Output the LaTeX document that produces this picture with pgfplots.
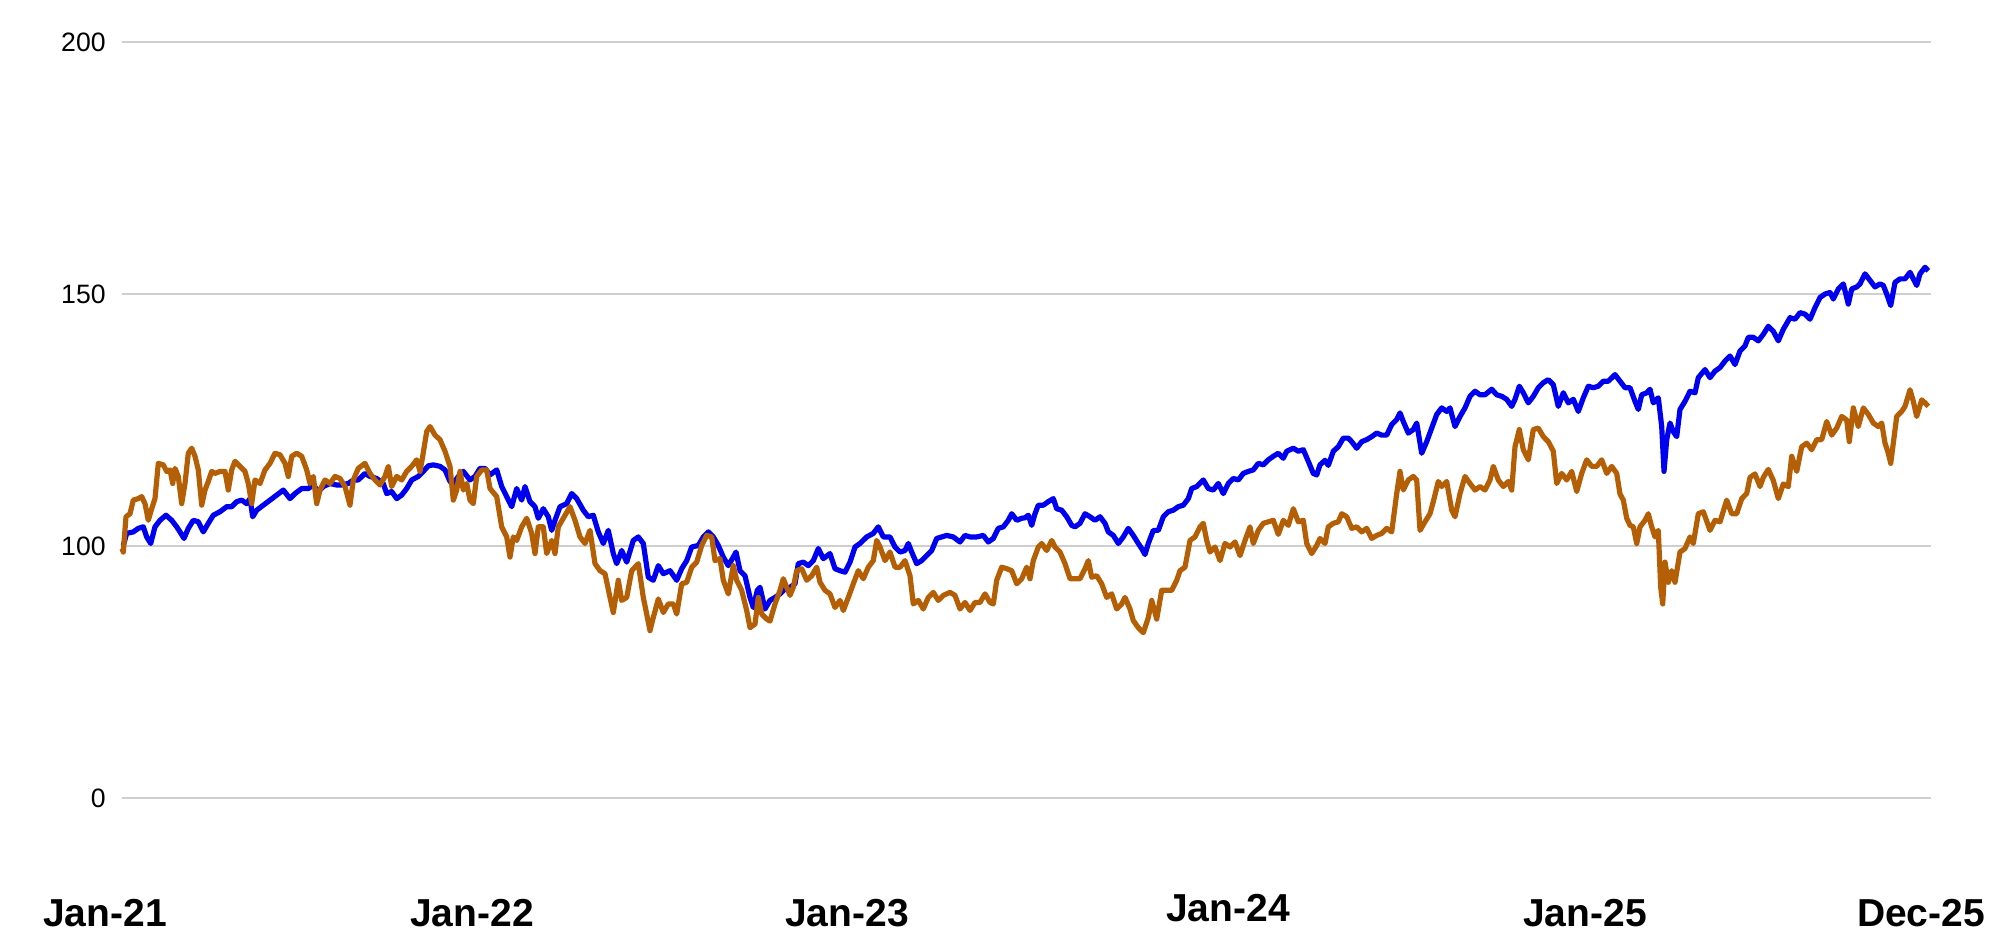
\documentclass[border=0pt]{standalone}
\usepackage{fontspec}
\setmainfont{Liberation Sans}
\usepackage{pgfplots}
\pgfplotsset{compat=1.18}
\definecolor{serblue}{HTML}{0000F0}
\definecolor{serorange}{HTML}{B45F06}
\definecolor{gridgray}{HTML}{CFCFCF}

\pgfplotstableread{
x y
122 100
123.3 100.1
126.7 102.5
133.3 102.8
138.3 103.5
143.3 103.8
146.7 101.8
150.7 100.5
155 103.8
160 105.1
166 106.1
171.7 105.1
176.7 103.8
180 102.8
184 101.5
188.3 103.5
193.3 105.1
198.3 104.8
203.3 102.8
208.3 104.5
213.3 106.1
220 106.8
226.7 107.8
231.7 107.8
236.7 108.8
241.7 109.1
246.7 108.4
250 109.4
252.7 105.8
256.7 107.1
263.3 108.1
270 109.1
276.7 110.1
283.3 111.1
290 109.4
295 110.4
301.7 111.4
308.3 111.4
313.3 112.1
318.3 110.8
323.3 111.8
330 112.4
336.7 112.1
341.7 112.1
348.3 112.4
353.3 113.1
358.3 113.1
365 114.4
370 113.8
376.7 113.4
383.3 112.4
386.7 110.4
391.7 110.8
396.7 109.4
401.7 110.1
406.7 111.4
411.7 113.1
418.3 113.8
423.3 114.8
428.3 115.9
433.3 116.1
440 115.8
445 115.1
450 112.8
453.3 112.4
458.3 113.8
463.3 114.8
470 113.1
475 113.8
480 115.4
485 115.4
490 114.1
496.7 115.1
501.7 111.8
506.7 109.8
511.7 107.8
516.7 111.4
521.7 109.1
525 111.8
530 108.8
535 107.8
538.3 105.5
543.3 107.4
548.3 105.8
551.7 103.1
555 105.1
560 107.8
566.7 108.4
571.7 110.4
576.7 109.4
583.3 107.1
588.3 105.8
593.3 106.1
598.3 102.8
603.3 100.5
608.3 103.1
613.3 98.5
616.7 96.5
621.7 99.1
626.7 96.8
633.3 101.1
638.3 101.8
643.3 100.5
648.3 93.8
653.3 93.2
658.3 96.1
663.3 94.5
670 95.1
676.7 93.2
681.7 95.5
686.7 97.1
691.7 99.8
698.3 100.1
703.3 101.8
708.3 102.8
713.3 101.8
718.3 100.1
723.3 97.8
728.3 96.1
733.3 97.8
736 98.8
740 95.1
745 94.1
750 89.8
753.3 87.8
757.3 91.2
760 91.8
765 87.5
770 89.2
775 89.8
780 90.5
785 91.5
790 91.8
795 92.5
798.3 96.5
803.3 96.8
808.3 96.1
813.3 97.1
818.3 99.5
823.3 97.5
830 98.5
835 95.5
840 95.1
845 94.8
850 96.8
855 99.8
860 100.5
866.7 101.8
873.3 102.5
878.3 103.8
883.3 101.8
890 101.8
895 99.8
900 98.8
905 99.1
908.3 100.5
911.7 98.8
916.7 96.5
921.7 97.1
926.7 98.1
931.7 99.1
936.7 101.5
941.7 101.8
946.7 102.1
953.3 101.8
960 100.8
965 102.1
970 101.8
976.7 101.8
983.3 102.1
988.3 100.8
993.3 101.5
998.3 103.5
1003.3 103.8
1008.3 105.1
1011.7 106.4
1016.7 105.1
1021.7 105.5
1025 105.6
1028.3 106.1
1031.7 104.1
1035 106.4
1038.3 108.1
1043.3 108.1
1048.3 108.8
1053.3 109.4
1056.7 107.4
1061.7 107.1
1066.7 105.8
1071.7 104.1
1075 103.8
1080 104.5
1085 106.4
1090 105.8
1095 105.1
1100 105.8
1105 104.5
1108.3 102.8
1113.3 102.1
1118.3 100.5
1123.3 101.8
1128.3 103.5
1133.3 102.1
1138.3 100.5
1141.7 99.5
1145 98.3
1148.3 100.5
1153.3 103.1
1158.3 103.1
1163.3 105.8
1168.3 106.8
1173.3 107.1
1178.3 107.8
1183.3 108.1
1188.3 109.4
1191.7 111.4
1196.7 111.8
1203.3 113.1
1208.3 111.4
1213.3 111.1
1218.3 112.4
1223.3 110.4
1228.3 112.4
1233.3 113.4
1238.3 113.1
1243.3 114.4
1248.3 114.8
1253.3 115.1
1258.3 116.4
1263.3 116.1
1268.3 117.1
1273.3 117.8
1278.3 118.4
1283.3 117.4
1286.7 118.8
1293.3 119.4
1298.3 118.8
1303.3 119.1
1308.3 116.8
1313.3 114.4
1316.7 114.1
1320 116.1
1325 117.0
1328.3 116.0
1333.3 118.8
1338.3 119.7
1343.3 121.4
1348.3 121.4
1351.7 120.7
1356.7 119.4
1361.7 120.7
1366.7 121.1
1371.7 121.7
1376.7 122.4
1381.7 122.0
1386.7 122.0
1391.7 124.1
1396.7 125.1
1400 126.4
1403.3 124.7
1408.3 122.4
1413.3 123.1
1416.7 124.4
1421.7 118.4
1426.7 120.7
1431.7 123.4
1436.7 126.1
1441.7 127.4
1446.7 126.7
1450 127.4
1455 123.7
1460 125.7
1465 127.4
1470 129.7
1475 130.7
1480 130.0
1485 130.0
1491.7 131.1
1496.7 130.0
1501.7 129.7
1506.7 129.1
1511.7 127.7
1515 129.1
1519.3 131.7
1523.3 130.4
1528.3 128.4
1533.3 129.7
1538.3 131.4
1543.3 132.4
1548.3 133.0
1553.3 132.0
1558.3 127.7
1563.3 130.4
1568.3 128.4
1573.3 129.1
1578.3 126.7
1583.3 129.4
1588.3 131.7
1593.3 131.4
1598.3 131.7
1603.3 132.7
1608.3 132.7
1615 134.0
1620 132.7
1625 131.4
1630 131.4
1635 128.7
1638.3 127.1
1641.7 130.0
1646.7 130.4
1650 131.1
1653.3 128.4
1658.3 129.4
1661.7 123.7
1664 114.8
1666.7 121.1
1670 124.4
1673.3 122.7
1676.7 121.7
1680 127.1
1685 128.7
1690 130.7
1695 130.4
1698.3 133.4
1705 135.0
1710 133.4
1715 134.7
1720 135.4
1725 136.7
1730 137.7
1735 136.0
1740 138.7
1745 139.7
1748.3 141.4
1753.3 141.4
1758.3 140.7
1763.3 142.0
1768.3 143.6
1773.3 142.6
1778.3 140.7
1783.3 143.0
1790 145.3
1795 145.0
1800 146.3
1805 146.0
1810 145.0
1815 147.3
1820 149.3
1825 150.0
1830 150.3
1833.3 149.0
1838.3 151.0
1843.3 152.0
1848.3 148.0
1851.7 151.0
1856.7 151.4
1860 152.0
1865 154.0
1870 152.7
1875 151.4
1880 152.0
1883.3 151.7
1886.7 150.0
1890.7 147.7
1895 152.3
1900 153.0
1905 153.0
1910 154.3
1913.3 153.0
1916.7 151.7
1920 154.0
1925 155.3
1928.3 154.6
}\blueseries

\pgfplotstableread{
x y
122 99.5
123.3 98.8
126 105.8
130 106.4
133.3 109.1
138.3 109.4
141.7 109.8
145 108.4
148.3 105.1
151.7 107.4
155 109.4
158.3 116.4
163.3 116.1
166.7 114.8
170 115.1
172.7 112.4
175 115.4
178.3 113.8
181.7 108.4
185 112.4
188.3 118.4
191.7 119.4
195 117.8
198.3 115.1
201.7 108.1
205 111.1
208.3 112.8
211.7 114.8
215 114.4
220 114.8
225 114.8
228.3 111.1
231.7 115.1
235 116.8
240 115.8
245 114.8
248.3 112.4
251.7 108.4
255 113.1
260 112.4
265 115.1
270 116.4
275 118.4
280 118.1
285 116.4
288.3 113.8
291.7 117.8
296.7 118.4
301.7 117.8
306.7 115.1
310 112.4
313.3 113.8
316.7 108.4
320 111.1
325 113.1
330 112.4
335 113.8
340 113.4
345 111.8
350 108.1
353.3 113.1
358.3 115.4
365 116.4
370 114.4
375 113.1
380 112.1
385 113.8
388.3 115.8
391.7 111.8
396.7 113.8
401.7 113.1
406.7 114.8
411.7 115.8
416.7 117.1
420 114.8
422.7 117.8
426.7 122.7
430 123.7
435 122.0
440 121.1
445 118.8
450 115.8
453.3 109.1
456.7 111.1
460 114.8
463.3 111.1
466.7 112.4
470 109.1
473.3 108.4
476.7 113.8
481.7 115.1
486.7 115.1
490 111.4
496.7 109.8
501.7 103.8
506.7 101.8
510 97.8
513.3 101.8
516.7 101.1
521.7 103.8
526.7 105.5
531.7 102.5
535 98.5
538.3 103.8
543.3 103.8
546.7 98.5
551.7 101.1
555 98.5
558.3 103.8
563.3 105.5
570 107.8
575 105.1
580 101.8
585 100.5
590 103.1
595 96.5
600 95.1
605 94.5
610 89.8
613.3 86.8
618.3 93.2
621.7 89.2
626.7 89.8
631.7 95.1
638.3 96.5
643.3 89.8
646.7 86.5
650 83.2
653.3 85.8
658.3 89.5
663.3 86.8
668.3 88.5
673.3 88.5
676.7 86.5
681.7 92.5
686.7 92.8
691.7 95.8
696.7 96.8
701.7 100.1
706.7 102.1
711.7 101.8
715 97.1
720 97.5
723.3 93.2
728.3 90.5
733.3 96.1
736.7 93.2
741.7 91.2
746.7 87.2
750 83.8
755 84.5
758.3 89.8
761.7 86.5
766.7 85.5
770 85.1
775 88.5
780 91.2
783.3 93.5
786.7 91.8
790 90.2
793.3 91.8
796.7 95.1
801.7 95.5
806.7 93.2
811.7 94.1
816.7 95.8
820 92.8
825 91.2
830 90.5
835 87.8
840 89.2
843.3 87.2
848.3 89.8
853.3 92.5
858.3 95.1
863.3 93.5
868.3 95.8
873.3 97.1
876.7 101.1
880 99.8
885 97.1
890 98.8
895 95.8
900 95.8
905 97.1
910 94.1
913.3 88.5
918.3 89.2
923.3 87.5
928.3 89.8
933.3 90.8
938.3 89.2
943.3 90.2
950 90.8
955 90.2
960 87.5
965 88.8
970 87.2
975 88.8
980 88.8
985 90.5
990 88.8
993.3 88.5
996.7 93.2
1001.7 95.8
1006.7 95.5
1011.7 95.1
1016.7 92.5
1021.7 93.5
1026.7 95.8
1030 93.5
1033.3 97.1
1038.3 99.8
1041.7 100.5
1046.7 99.1
1051.7 101.1
1055 99.8
1060 98.8
1065 96.5
1070 93.5
1075 93.5
1080 93.5
1085 95.5
1088.3 97.1
1091.7 93.8
1096.7 94.1
1101.7 92.5
1106.7 89.8
1111.7 90.5
1116.7 87.5
1121.7 88.5
1125 89.8
1130 87.5
1133.3 85.2
1138.3 83.8
1143.3 82.8
1148.3 85.8
1151.7 89.2
1156.7 85.5
1161.7 91.2
1166.7 91.2
1171.7 91.2
1176.7 93.2
1180 95.1
1185 95.8
1190 101.1
1195 101.8
1200 103.8
1203.3 104.5
1206.7 101.1
1210 98.8
1215 99.8
1220 97.1
1225 100.5
1230 99.8
1235 100.8
1240 98.1
1245 101.1
1250 103.8
1253.3 100.5
1258.3 103.1
1263.3 104.5
1268.3 104.8
1273.3 105.1
1278.3 102.3
1283.3 105.1
1288.3 104.1
1293.3 107.4
1298.3 104.8
1303.3 105.1
1306.7 100.5
1311.7 98.5
1316.7 100.1
1320 101.5
1325 100.5
1328.3 103.8
1333.3 104.5
1338.3 104.8
1341.7 106.4
1346.7 105.8
1351.7 103.5
1356.7 103.8
1361.7 102.8
1366.7 103.5
1371.7 101.5
1376.7 102.1
1381.7 102.5
1386.7 103.5
1391.7 102.8
1396.7 110.4
1400 114.8
1403.3 111.1
1408.3 113.1
1413.3 113.8
1416.7 113.1
1420 103.1
1425 104.8
1430 106.4
1433.3 108.8
1438.3 112.8
1441.7 111.8
1446.7 112.8
1451.7 107.1
1455 105.8
1460 110.4
1465 113.8
1470 112.4
1475 111.1
1480 111.8
1485 111.1
1490 113.1
1493.3 115.8
1498.3 113.1
1503.3 111.8
1508.3 112.8
1511.7 111.1
1515 119.7
1519.3 123.1
1523.3 119.1
1528.3 117.1
1533.3 123.1
1538.3 123.4
1543.3 121.7
1548.3 120.7
1553.3 118.8
1556.7 112.4
1561.7 114.4
1566.7 113.1
1571.7 114.8
1576.7 110.8
1581.7 114.4
1586.7 117.1
1591.7 115.8
1596.7 115.8
1601.7 117.1
1606.7 114.4
1611.7 115.8
1616.7 114.4
1620 110.3
1623.3 109.1
1626.7 105.5
1630 104.1
1633.3 103.8
1636.7 100.5
1640 103.8
1645 105.1
1648.3 106.4
1651.7 103.8
1655 101.8
1658.3 103.1
1660.7 91.8
1662.7 88.5
1665 96.8
1668.3 92.8
1671.7 95.1
1675 92.8
1680 98.8
1685 99.5
1690 101.8
1693.3 100.5
1698.3 106.4
1703.3 106.8
1710 103.1
1715 105.1
1720 104.8
1726.7 109.1
1731.7 106.4
1736.7 106.4
1741.7 109.4
1746.7 110.4
1750 113.6
1755 114.3
1760 111.8
1763.3 113.6
1768.3 115.2
1773.3 113.0
1778.3 109.4
1783.3 112.3
1788.3 111.8
1791.7 117.8
1796.7 114.8
1801.7 119.7
1806.7 120.4
1811.7 119.1
1816.7 121.1
1821.7 121.1
1826.7 124.7
1831.7 122.0
1836.7 123.4
1841.7 125.7
1846.7 125.0
1849.3 120.7
1853.3 127.4
1858.3 123.7
1863.3 127.4
1868.3 126.1
1873.3 124.4
1878.3 123.7
1881.7 124.4
1885 120.4
1888.3 118.4
1890.7 116.4
1893.3 120.4
1896.7 125.7
1901.7 126.7
1905 127.7
1910 131.0
1913.3 128.7
1916.7 125.7
1921.7 129.0
1925 128.4
1928.3 127.7
}\orangeseries

\begin{document}
\begin{tikzpicture}
\useasboundingbox (0,0) rectangle (1006bp,466bp);
\begin{axis}[
  at={(61bp,67bp)}, anchor=south west,
  scale only axis,
  width=904.5bp, height=378bp,
  xmin=122, xmax=1931,
  ymin=50, ymax=200,
  clip=false,
  axis line style={draw=none},
  tick style={draw=none},
  xtick=\empty,
  ytick={50,100,150,200},
  yticklabels={0,100,150,200},
  yticklabel style={font=\fontsize{13.3bp}{15bp}\selectfont, inner sep=0pt, anchor=east, xshift=-8bp},
  ymajorgrids,
  grid style={draw=gridgray, line width=1bp},
]
\addplot[serblue, line width=2.6bp, line join=round, no marks] table[x=x,y=y] {\blueseries};
\addplot[serorange, line width=2.6bp, line join=round, no marks] table[x=x,y=y] {\orangeseries};
\begin{scope}[every node/.style={anchor=base, inner sep=0pt, font=\fontsize{19.5bp}{22bp}\selectfont\bfseries}]
\node[yshift=-64bp] at (axis cs:105,50) {Jan-21};
\node[yshift=-64bp] at (axis cs:472,50) {Jan-22};
\node[yshift=-64bp] at (axis cs:847,50) {Jan-23};
\node[yshift=-61.5bp] at (axis cs:1228,50) {Jan-24};
\node[yshift=-64bp] at (axis cs:1585,50) {Jan-25};
\node[yshift=-64bp] at (axis cs:1921,50) {Dec-25};
\end{scope}
\end{axis}
\end{tikzpicture}
\end{document}
